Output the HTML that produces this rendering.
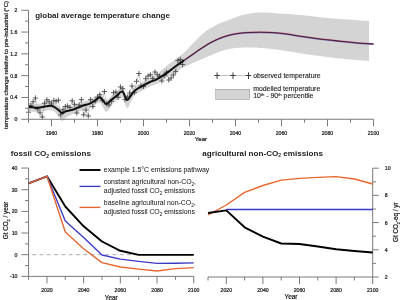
<!DOCTYPE html>
<html><head><meta charset="utf-8"><style>html,body{margin:0;padding:0;background:#fff;width:400px;height:300px;overflow:hidden}</style></head>
<body><svg width="400" height="300" viewBox="0 0 400 300" style="display:block;filter:blur(0.4px)"><rect width="400" height="300" fill="#fff"/><path d="M28.50,102.80 C29.25,102.88 31.58,103.10 33.00,103.30 C34.42,103.50 35.67,104.00 37.00,104.00 C38.33,104.00 39.67,103.55 41.00,103.30 C42.33,103.05 43.33,102.75 45.00,102.50 C46.67,102.25 49.33,101.67 51.00,101.80 C52.67,101.93 53.67,102.52 55.00,103.30 C56.33,104.08 57.83,105.55 59.00,106.50 C60.17,107.45 60.87,108.87 62.00,109.00 C63.13,109.13 64.18,107.80 65.80,107.30 C67.42,106.80 69.75,106.58 71.70,106.00 C73.65,105.42 75.57,104.55 77.50,103.80 C79.43,103.05 81.38,102.15 83.30,101.50 C85.22,100.85 87.05,100.72 89.00,99.90 C90.95,99.08 93.22,97.68 95.00,96.60 C96.78,95.52 98.37,93.40 99.70,93.40 C101.03,93.40 101.90,95.50 103.00,96.60 C104.10,97.70 104.97,100.07 106.30,100.00 C107.63,99.93 109.33,97.50 111.00,96.20 C112.67,94.90 114.42,93.65 116.30,92.20 C118.18,90.75 120.52,86.87 122.30,87.50 C124.08,88.13 125.55,95.37 127.00,96.00 C128.45,96.63 129.67,92.88 131.00,91.30 C132.33,89.72 132.95,88.13 135.00,86.50 C137.05,84.87 140.80,82.92 143.30,81.50 C145.80,80.08 147.77,79.02 150.00,78.00 C152.23,76.98 155.03,76.43 156.70,75.40 C158.37,74.37 158.62,73.15 160.00,71.80 C161.38,70.45 163.33,68.73 165.00,67.30 C166.67,65.87 168.33,64.50 170.00,63.20 C171.67,61.90 173.33,60.70 175.00,59.50 C176.67,58.30 178.33,57.28 180.00,56.00 C181.67,54.72 183.33,53.38 185.00,51.80 C186.67,50.22 188.33,48.25 190.00,46.50 C191.67,44.75 193.33,43.02 195.00,41.30 C196.67,39.58 198.33,37.77 200.00,36.20 C201.67,34.63 203.33,33.18 205.00,31.90 C206.67,30.62 208.33,29.52 210.00,28.50 C211.67,27.48 213.33,26.67 215.00,25.80 C216.67,24.93 217.50,24.35 220.00,23.30 C222.50,22.25 226.67,20.75 230.00,19.50 C233.33,18.25 236.67,16.78 240.00,15.80 C243.33,14.82 246.67,14.13 250.00,13.60 C253.33,13.07 256.67,12.73 260.00,12.60 C263.33,12.47 266.67,12.63 270.00,12.80 C273.33,12.97 275.00,13.23 280.00,13.60 C285.00,13.97 293.33,14.40 300.00,15.00 C306.67,15.60 313.33,16.53 320.00,17.20 C326.67,17.87 331.83,18.37 340.00,19.00 C348.17,19.63 364.17,20.67 369.00,21.00 L369.00,61.00 C364.17,60.58 348.17,59.33 340.00,58.50 C331.83,57.67 326.67,56.87 320.00,56.00 C313.33,55.13 306.67,54.30 300.00,53.30 C293.33,52.30 286.67,50.88 280.00,50.00 C273.33,49.12 265.00,48.40 260.00,48.00 C255.00,47.60 253.33,47.63 250.00,47.60 C246.67,47.57 243.33,47.62 240.00,47.80 C236.67,47.98 233.33,48.08 230.00,48.70 C226.67,49.32 223.33,50.32 220.00,51.50 C216.67,52.68 213.33,54.38 210.00,55.80 C206.67,57.22 203.33,58.58 200.00,60.00 C196.67,61.42 193.33,62.72 190.00,64.30 C186.67,65.88 183.33,67.63 180.00,69.50 C176.67,71.37 173.33,73.42 170.00,75.50 C166.67,77.58 162.22,80.60 160.00,82.00 C157.78,83.40 158.37,83.15 156.70,83.90 C155.03,84.65 152.23,85.48 150.00,86.50 C147.77,87.52 145.80,88.54 143.30,90.00 C140.80,91.46 137.05,93.33 135.00,95.27 C132.95,97.21 132.33,99.52 131.00,101.65 C129.67,103.77 128.45,108.70 127.00,108.00 C125.55,107.30 124.08,98.65 122.30,97.45 C120.52,96.24 118.18,99.31 116.30,100.76 C114.42,102.21 112.67,104.27 111.00,106.15 C109.33,108.02 107.63,111.80 106.30,112.00 C104.97,112.20 104.10,108.95 103.00,107.36 C101.90,105.78 101.03,102.89 99.70,102.51 C98.37,102.14 96.78,104.14 95.00,105.12 C93.22,106.10 90.95,107.59 89.00,108.40 C87.05,109.21 85.22,109.35 83.30,110.00 C81.38,110.65 79.43,111.54 77.50,112.30 C75.57,113.06 73.65,113.67 71.70,114.58 C69.75,115.49 67.42,116.69 65.80,117.76 C64.18,118.83 63.13,121.05 62.00,121.00 C60.87,120.95 60.17,118.89 59.00,117.44 C57.83,115.99 56.33,113.48 55.00,112.29 C53.67,111.11 52.67,110.54 51.00,110.33 C49.33,110.11 46.67,110.75 45.00,111.00 C43.33,111.25 42.33,111.55 41.00,111.80 C39.67,112.05 38.33,112.50 37.00,112.50 C35.67,112.50 34.42,112.00 33.00,111.80 C31.58,111.60 29.25,111.38 28.50,111.30 Z" fill="#d4d4d4" stroke="none"/><path d="M28.50,112.20 L30.80,105.50 L33.10,101.80 L35.40,98.00 L37.70,109.00 L40.00,112.80 L42.30,117.00 L44.60,103.20 L46.90,99.80 L49.20,101.80 L51.50,104.00 L53.80,100.60 L56.10,101.20 L58.40,100.20 L60.70,114.80 L63.00,109.80 L65.30,106.50 L67.60,106.00 L69.90,107.50 L72.20,100.80 L74.50,104.30 L76.80,113.00 L79.10,105.00 L81.40,99.60 L83.70,114.80 L86.00,110.00 L88.30,116.00 L90.60,99.60 L92.90,106.60 L95.20,101.00 L97.50,97.20 L99.80,94.70 L102.10,100.20 L104.40,91.50 L106.70,104.00 L109.00,105.00 L111.30,101.30 L113.60,92.70 L115.90,92.00 L118.20,97.40 L120.50,87.00 L122.80,88.70 L125.10,99.60 L127.40,97.00 L129.70,93.00 L132.00,86.00 L134.30,92.50 L136.60,81.30 L138.90,73.50 L141.20,86.00 L143.50,86.50 L145.80,78.70 L148.10,76.00 L150.40,74.70 L152.70,78.40 L155.00,72.00 L157.30,74.70 L159.60,76.20 L161.90,81.00 L164.20,75.60 L166.50,72.20 L168.80,80.00 L171.10,78.00 L173.40,75.00 L175.70,71.60 L178.00,60.50 L180.30,59.50 L182.60,64.50" fill="none" stroke="#9a9a9a" stroke-width="0.5"/><path d="M25.90,112.20h5.2M28.50,109.60v5.2M28.20,105.50h5.2M30.80,102.90v5.2M30.50,101.80h5.2M33.10,99.20v5.2M32.80,98.00h5.2M35.40,95.40v5.2M35.10,109.00h5.2M37.70,106.40v5.2M37.40,112.80h5.2M40.00,110.20v5.2M39.70,117.00h5.2M42.30,114.40v5.2M42.00,103.20h5.2M44.60,100.60v5.2M44.30,99.80h5.2M46.90,97.20v5.2M46.60,101.80h5.2M49.20,99.20v5.2M48.90,104.00h5.2M51.50,101.40v5.2M51.20,100.60h5.2M53.80,98.00v5.2M53.50,101.20h5.2M56.10,98.60v5.2M55.80,100.20h5.2M58.40,97.60v5.2M58.10,114.80h5.2M60.70,112.20v5.2M60.40,109.80h5.2M63.00,107.20v5.2M62.70,106.50h5.2M65.30,103.90v5.2M65.00,106.00h5.2M67.60,103.40v5.2M67.30,107.50h5.2M69.90,104.90v5.2M69.60,100.80h5.2M72.20,98.20v5.2M71.90,104.30h5.2M74.50,101.70v5.2M74.20,113.00h5.2M76.80,110.40v5.2M76.50,105.00h5.2M79.10,102.40v5.2M78.80,99.60h5.2M81.40,97.00v5.2M81.10,114.80h5.2M83.70,112.20v5.2M83.40,110.00h5.2M86.00,107.40v5.2M85.70,116.00h5.2M88.30,113.40v5.2M88.00,99.60h5.2M90.60,97.00v5.2M90.30,106.60h5.2M92.90,104.00v5.2M92.60,101.00h5.2M95.20,98.40v5.2M94.90,97.20h5.2M97.50,94.60v5.2M97.20,94.70h5.2M99.80,92.10v5.2M99.50,100.20h5.2M102.10,97.60v5.2M101.80,91.50h5.2M104.40,88.90v5.2M104.10,104.00h5.2M106.70,101.40v5.2M106.40,105.00h5.2M109.00,102.40v5.2M108.70,101.30h5.2M111.30,98.70v5.2M111.00,92.70h5.2M113.60,90.10v5.2M113.30,92.00h5.2M115.90,89.40v5.2M115.60,97.40h5.2M118.20,94.80v5.2M117.90,87.00h5.2M120.50,84.40v5.2M120.20,88.70h5.2M122.80,86.10v5.2M122.50,99.60h5.2M125.10,97.00v5.2M124.80,97.00h5.2M127.40,94.40v5.2M127.10,93.00h5.2M129.70,90.40v5.2M129.40,86.00h5.2M132.00,83.40v5.2M131.70,92.50h5.2M134.30,89.90v5.2M134.00,81.30h5.2M136.60,78.70v5.2M136.30,73.50h5.2M138.90,70.90v5.2M138.60,86.00h5.2M141.20,83.40v5.2M140.90,86.50h5.2M143.50,83.90v5.2M143.20,78.70h5.2M145.80,76.10v5.2M145.50,76.00h5.2M148.10,73.40v5.2M147.80,74.70h5.2M150.40,72.10v5.2M150.10,78.40h5.2M152.70,75.80v5.2M152.40,72.00h5.2M155.00,69.40v5.2M154.70,74.70h5.2M157.30,72.10v5.2M157.00,76.20h5.2M159.60,73.60v5.2M159.30,81.00h5.2M161.90,78.40v5.2M161.60,75.60h5.2M164.20,73.00v5.2M163.90,72.20h5.2M166.50,69.60v5.2M166.20,80.00h5.2M168.80,77.40v5.2M168.50,78.00h5.2M171.10,75.40v5.2M170.80,75.00h5.2M173.40,72.40v5.2M173.10,71.60h5.2M175.70,69.00v5.2M175.40,60.50h5.2M178.00,57.90v5.2M177.70,59.50h5.2M180.30,56.90v5.2M180.00,64.50h5.2M182.60,61.90v5.2" fill="none" stroke="#444" stroke-width="0.85"/><path d="M180.00,63.00 C181.67,61.88 186.67,58.58 190.00,56.30 C193.33,54.02 196.67,51.52 200.00,49.30 C203.33,47.08 206.67,44.85 210.00,43.00 C213.33,41.15 216.67,39.53 220.00,38.20 C223.33,36.87 226.67,35.83 230.00,35.00 C233.33,34.17 236.67,33.62 240.00,33.20 C243.33,32.78 246.67,32.65 250.00,32.50 C253.33,32.35 256.67,32.30 260.00,32.30 C263.33,32.30 266.67,32.35 270.00,32.50 C273.33,32.65 276.67,32.87 280.00,33.20 C283.33,33.53 286.67,34.00 290.00,34.50 C293.33,35.00 295.00,35.45 300.00,36.20 C305.00,36.95 313.33,38.17 320.00,39.00 C326.67,39.83 333.33,40.50 340.00,41.20 C346.67,41.90 354.40,42.73 360.00,43.20 C365.60,43.67 371.33,43.87 373.60,44.00" fill="none" stroke="#8080c8" stroke-width="1" transform="translate(0,0.5)"/><path d="M180.00,63.00 C181.67,61.88 186.67,58.58 190.00,56.30 C193.33,54.02 196.67,51.52 200.00,49.30 C203.33,47.08 206.67,44.85 210.00,43.00 C213.33,41.15 216.67,39.53 220.00,38.20 C223.33,36.87 226.67,35.83 230.00,35.00 C233.33,34.17 236.67,33.62 240.00,33.20 C243.33,32.78 246.67,32.65 250.00,32.50 C253.33,32.35 256.67,32.30 260.00,32.30 C263.33,32.30 266.67,32.35 270.00,32.50 C273.33,32.65 276.67,32.87 280.00,33.20 C283.33,33.53 286.67,34.00 290.00,34.50 C293.33,35.00 295.00,35.45 300.00,36.20 C305.00,36.95 313.33,38.17 320.00,39.00 C326.67,39.83 333.33,40.50 340.00,41.20 C346.67,41.90 354.40,42.73 360.00,43.20 C365.60,43.67 371.33,43.87 373.60,44.00" fill="none" stroke="#c07080" stroke-width="1" transform="translate(0,-0.4)"/><path d="M180.00,63.00 C181.67,61.88 186.67,58.58 190.00,56.30 C193.33,54.02 196.67,51.52 200.00,49.30 C203.33,47.08 206.67,44.85 210.00,43.00 C213.33,41.15 216.67,39.53 220.00,38.20 C223.33,36.87 226.67,35.83 230.00,35.00 C233.33,34.17 236.67,33.62 240.00,33.20 C243.33,32.78 246.67,32.65 250.00,32.50 C253.33,32.35 256.67,32.30 260.00,32.30 C263.33,32.30 266.67,32.35 270.00,32.50 C273.33,32.65 276.67,32.87 280.00,33.20 C283.33,33.53 286.67,34.00 290.00,34.50 C293.33,35.00 295.00,35.45 300.00,36.20 C305.00,36.95 313.33,38.17 320.00,39.00 C326.67,39.83 333.33,40.50 340.00,41.20 C346.67,41.90 354.40,42.73 360.00,43.20 C365.60,43.67 371.33,43.87 373.60,44.00" fill="none" stroke="#4a1c3c" stroke-width="1.05"/><path d="M28.50,106.80 C29.25,106.88 31.58,107.10 33.00,107.30 C34.42,107.50 35.67,108.00 37.00,108.00 C38.33,108.00 39.67,107.55 41.00,107.30 C42.33,107.05 43.33,106.75 45.00,106.50 C46.67,106.25 49.33,105.67 51.00,105.80 C52.67,105.93 53.67,106.52 55.00,107.30 C56.33,108.08 57.83,109.55 59.00,110.50 C60.17,111.45 60.87,112.87 62.00,113.00 C63.13,113.13 64.18,111.80 65.80,111.30 C67.42,110.80 69.75,110.58 71.70,110.00 C73.65,109.42 75.57,108.55 77.50,107.80 C79.43,107.05 81.38,106.15 83.30,105.50 C85.22,104.85 87.05,104.72 89.00,103.90 C90.95,103.08 93.22,101.68 95.00,100.60 C96.78,99.52 98.37,97.40 99.70,97.40 C101.03,97.40 101.90,99.50 103.00,100.60 C104.10,101.70 104.97,104.07 106.30,104.00 C107.63,103.93 109.33,101.50 111.00,100.20 C112.67,98.90 114.42,97.65 116.30,96.20 C118.18,94.75 120.52,90.87 122.30,91.50 C124.08,92.13 125.55,99.37 127.00,100.00 C128.45,100.63 129.67,96.88 131.00,95.30 C132.33,93.72 132.95,92.13 135.00,90.50 C137.05,88.87 140.80,86.92 143.30,85.50 C145.80,84.08 147.77,83.02 150.00,82.00 C152.23,80.98 154.48,80.52 156.70,79.40 C158.92,78.28 161.08,76.77 163.30,75.30 C165.52,73.83 167.88,72.15 170.00,70.60 C172.12,69.05 174.33,67.23 176.00,66.00 C177.67,64.77 178.67,64.13 180.00,63.20 C181.33,62.27 183.33,60.87 184.00,60.40" fill="none" stroke="#111" stroke-width="2.1"/><path d="M28.5,10.25V119.25H373.6M21.3,119.25H28.5M25.0,108.35H28.5M21.3,97.45H28.5M25.0,86.55H28.5M21.3,75.65H28.5M25.0,64.75H28.5M21.3,53.85H28.5M25.0,42.95H28.5M21.3,32.05H28.5M25.0,21.15H28.5M21.3,10.25H28.5M28.50,119.25v3.5M51.50,119.25v7M74.50,119.25v3.5M97.50,119.25v7M120.50,119.25v3.5M143.50,119.25v7M166.50,119.25v3.5M189.50,119.25v7M212.50,119.25v3.5M235.50,119.25v7M258.50,119.25v3.5M281.50,119.25v7M304.50,119.25v3.5M327.50,119.25v7M350.50,119.25v3.5M373.50,119.25v7" fill="none" stroke="#7a7a7a" stroke-width="1"/><g font-family='"Liberation Sans", sans-serif' fill="#222" stroke="#222" stroke-width="0.22"><text x="17.5" y="121.15" font-size="5.2" text-anchor="end">0</text><text x="17.5" y="99.35" font-size="5.2" text-anchor="end">0.4</text><text x="17.5" y="77.55" font-size="5.2" text-anchor="end">0.8</text><text x="17.5" y="55.75" font-size="5.2" text-anchor="end">1.2</text><text x="17.5" y="33.95" font-size="5.2" text-anchor="end">1.6</text><text x="17.5" y="12.15" font-size="5.2" text-anchor="end">2</text><text x="51.50" y="134.9" font-size="5.2" text-anchor="middle">1960</text><text x="97.50" y="134.9" font-size="5.2" text-anchor="middle">1980</text><text x="143.50" y="134.9" font-size="5.2" text-anchor="middle">2000</text><text x="189.50" y="134.9" font-size="5.2" text-anchor="middle">2020</text><text x="235.50" y="134.9" font-size="5.2" text-anchor="middle">2040</text><text x="281.50" y="134.9" font-size="5.2" text-anchor="middle">2060</text><text x="327.50" y="134.9" font-size="5.2" text-anchor="middle">2080</text><text x="373.50" y="134.9" font-size="5.2" text-anchor="middle">2100</text><text x="200.9" y="141.2" font-size="6.2" text-anchor="middle">Year</text><text transform="translate(7.8,65) rotate(-90)" font-size="5.9" text-anchor="middle">temperature change relative to pre-industrial (°C)</text><text x="35.2" y="18.4" font-size="8" font-weight="bold" stroke="none">global average temperature change</text><path d="M214,75.5H251" stroke="#999" stroke-width="0.6" fill="none"/><path d="M214.4,75.5h5.4M217.1,72.4v6.5M230.3,75.5h5.4M233,72.4v6.5M245.8,75.5h5.4M248.5,72.4v6.5" stroke="#333" stroke-width="0.95" fill="none"/><rect x="215.7" y="89.2" width="34" height="10.3" fill="#d4d4d4"/><text x="253.2" y="78.3" font-size="6.9" stroke-width="0.12">observed temperature</text><text x="253.2" y="91" font-size="6.9" stroke-width="0.12">modelled temperature</text><text x="253.2" y="97.8" font-size="6.9" stroke-width="0.12">10<tspan font-size="4.2" dy="-2.3">th</tspan><tspan dy="2.3"> - 90</tspan><tspan font-size="4.2" dy="-2.3">th</tspan><tspan dy="2.3"> percentile</tspan></text></g><path d="M28.6,168.06V276.36H193.75M21.400000000000002,276.36H28.6M25.1,265.53H28.6M21.400000000000002,254.70H28.6M25.1,243.87H28.6M21.400000000000002,233.04H28.6M25.1,222.21H28.6M21.400000000000002,211.38H28.6M25.1,200.55H28.6M21.400000000000002,189.72H28.6M25.1,178.89H28.6M21.400000000000002,168.06H28.6M28.60,276.36v3.5M46.95,276.36v7M65.30,276.36v3.5M83.65,276.36v7M102.00,276.36v3.5M120.35,276.36v7M138.70,276.36v3.5M157.05,276.36v7M175.40,276.36v3.5M193.75,276.36v7" fill="none" stroke="#7a7a7a" stroke-width="1"/><path d="M32.2,254.70H193.75" stroke="#aaa" stroke-width="1" stroke-dasharray="3.9,3.4" fill="none"/><path d="M28.60,183.30 L46.95,176.30 L65.30,206.50 L83.65,226.30 L102.00,241.50 L120.35,250.80 L138.70,254.90 L157.05,254.90 L175.40,254.90 L193.75,254.90" fill="none" stroke="#000" stroke-width="1.9" stroke-linejoin="round"/><path d="M28.60,183.30 L46.95,176.30 L65.30,221.00 L83.65,237.50 L102.00,255.00 L120.35,259.20 L138.70,261.30 L157.05,263.30 L175.40,263.20 L193.75,262.80" fill="none" stroke="#3b3bc8" stroke-width="1.35" stroke-linejoin="round"/><path d="M28.60,183.30 L46.95,176.30 L65.30,232.00 L83.65,248.70 L102.00,262.60 L120.35,267.00 L138.70,269.20 L157.05,271.00 L175.40,268.60 L193.75,267.70" fill="none" stroke="#e8662e" stroke-width="1.35" stroke-linejoin="round"/><g font-family='"Liberation Sans", sans-serif' fill="#222" stroke="#222" stroke-width="0.22"><text x="17.5" y="278.26" font-size="5.2" text-anchor="end">-10</text><text x="17.5" y="256.60" font-size="5.2" text-anchor="end">0</text><text x="17.5" y="234.94" font-size="5.2" text-anchor="end">10</text><text x="17.5" y="213.28" font-size="5.2" text-anchor="end">20</text><text x="17.5" y="191.62" font-size="5.2" text-anchor="end">30</text><text x="17.5" y="169.96" font-size="5.2" text-anchor="end">40</text><text x="46.95" y="291.9" font-size="5.2" text-anchor="middle">2020</text><text x="83.65" y="291.9" font-size="5.2" text-anchor="middle">2040</text><text x="120.35" y="291.9" font-size="5.2" text-anchor="middle">2060</text><text x="157.05" y="291.9" font-size="5.2" text-anchor="middle">2080</text><text x="193.75" y="291.9" font-size="5.2" text-anchor="middle">2100</text><text x="111.2" y="299.6" font-size="6.4" text-anchor="middle">Year</text><text transform="translate(8.2,220.5) rotate(-90)" font-size="6.3" text-anchor="middle">Gt CO<tspan font-size="3.8" dy="1.5">2</tspan><tspan dy="-1.5"> / year</tspan></text><text x="10.8" y="156.1" font-size="8.1" font-weight="bold" stroke="none">fossil CO<tspan font-size="5" dy="1.8">2</tspan><tspan dy="-1.8"> emissions</tspan></text></g><path d="M79.5,170H100.5" stroke="#000" stroke-width="1.9"/><path d="M79.5,186.4H100.5" stroke="#3b3bc8" stroke-width="1.35"/><path d="M79.5,207.4H100.5" stroke="#e8662e" stroke-width="1.35"/><g font-family='"Liberation Sans", sans-serif' fill="#222" stroke="#222" stroke-width="0.04" font-size="6.9"><text x="103.8" y="172.2">example 1.5°C emissions pathway</text><text x="103.8" y="184.3">constant agricultural non-CO<tspan font-size="4.6" dy="1.5">2</tspan><tspan dy="-1.5">,</tspan></text><text x="103.8" y="193.2">adjusted fossil CO<tspan font-size="4.6" dy="1.5">2</tspan><tspan dy="-1.5"> emissions</tspan></text><text x="103.8" y="205.2">baseline agricultural non-CO<tspan font-size="4.6" dy="1.5">2</tspan><tspan dy="-1.5">,</tspan></text><text x="103.8" y="214.1">adjusted fossil CO<tspan font-size="4.6" dy="1.5">2</tspan><tspan dy="-1.5"> emissions</tspan></text></g><path d="M208.00,277H372.70V168.20M372.70,277.00h6M372.70,263.40h3.2M372.70,249.80h6M372.70,236.20h3.2M372.70,222.60h6M372.70,209.00h3.2M372.70,195.40h6M372.70,181.80h3.2M372.70,168.20h6M208.00,277v3.5M226.30,277v7M244.60,277v3.5M262.90,277v7M281.20,277v3.5M299.50,277v7M317.80,277v3.5M336.10,277v7M354.40,277v3.5M372.70,277v7" fill="none" stroke="#7a7a7a" stroke-width="1"/><path d="M208.00,215.00 L226.30,205.00 L244.60,192.40 L262.90,185.50 L281.20,180.20 L299.50,178.30 L317.80,177.30 L336.10,176.70 L354.40,179.00 L372.70,184.00" fill="none" stroke="#e8662e" stroke-width="1.35" stroke-linejoin="round"/><path d="M226.30,209.5H372.70" fill="none" stroke="#3b3bc8" stroke-width="1.35"/><path d="M208.00,213.00 L226.30,210.40 L244.60,227.30 L262.90,236.60 L281.20,243.50 L299.50,244.00 L317.80,246.50 L336.10,249.30 L354.40,251.00 L372.70,252.50" fill="none" stroke="#000" stroke-width="1.9" stroke-linejoin="round"/><g font-family='"Liberation Sans", sans-serif' fill="#222" stroke="#222" stroke-width="0.22"><text x="384.8" y="278.90" font-size="5.2">2</text><text x="384.8" y="251.70" font-size="5.2">4</text><text x="384.8" y="224.50" font-size="5.2">6</text><text x="384.8" y="197.30" font-size="5.2">8</text><text x="384.8" y="170.10" font-size="5.2">10</text><text x="226.30" y="291.9" font-size="5.2" text-anchor="middle">2020</text><text x="262.90" y="291.9" font-size="5.2" text-anchor="middle">2040</text><text x="299.50" y="291.9" font-size="5.2" text-anchor="middle">2060</text><text x="336.10" y="291.9" font-size="5.2" text-anchor="middle">2080</text><text x="372.70" y="291.9" font-size="5.2" text-anchor="middle">2100</text><text x="291" y="299.1" font-size="6.4" text-anchor="middle">Year</text><text transform="translate(398.2,222.2) rotate(-90)" font-size="6.3" text-anchor="middle">Gt CO<tspan font-size="3.8" dy="1.5">2</tspan><tspan dy="-1.5">-eq / yr</tspan></text><text x="202.3" y="155.6" font-size="8.1" font-weight="bold" stroke="none">agricultural non-CO<tspan font-size="5" dy="1.8">2</tspan><tspan dy="-1.8"> emissions</tspan></text></g></svg></body></html>
